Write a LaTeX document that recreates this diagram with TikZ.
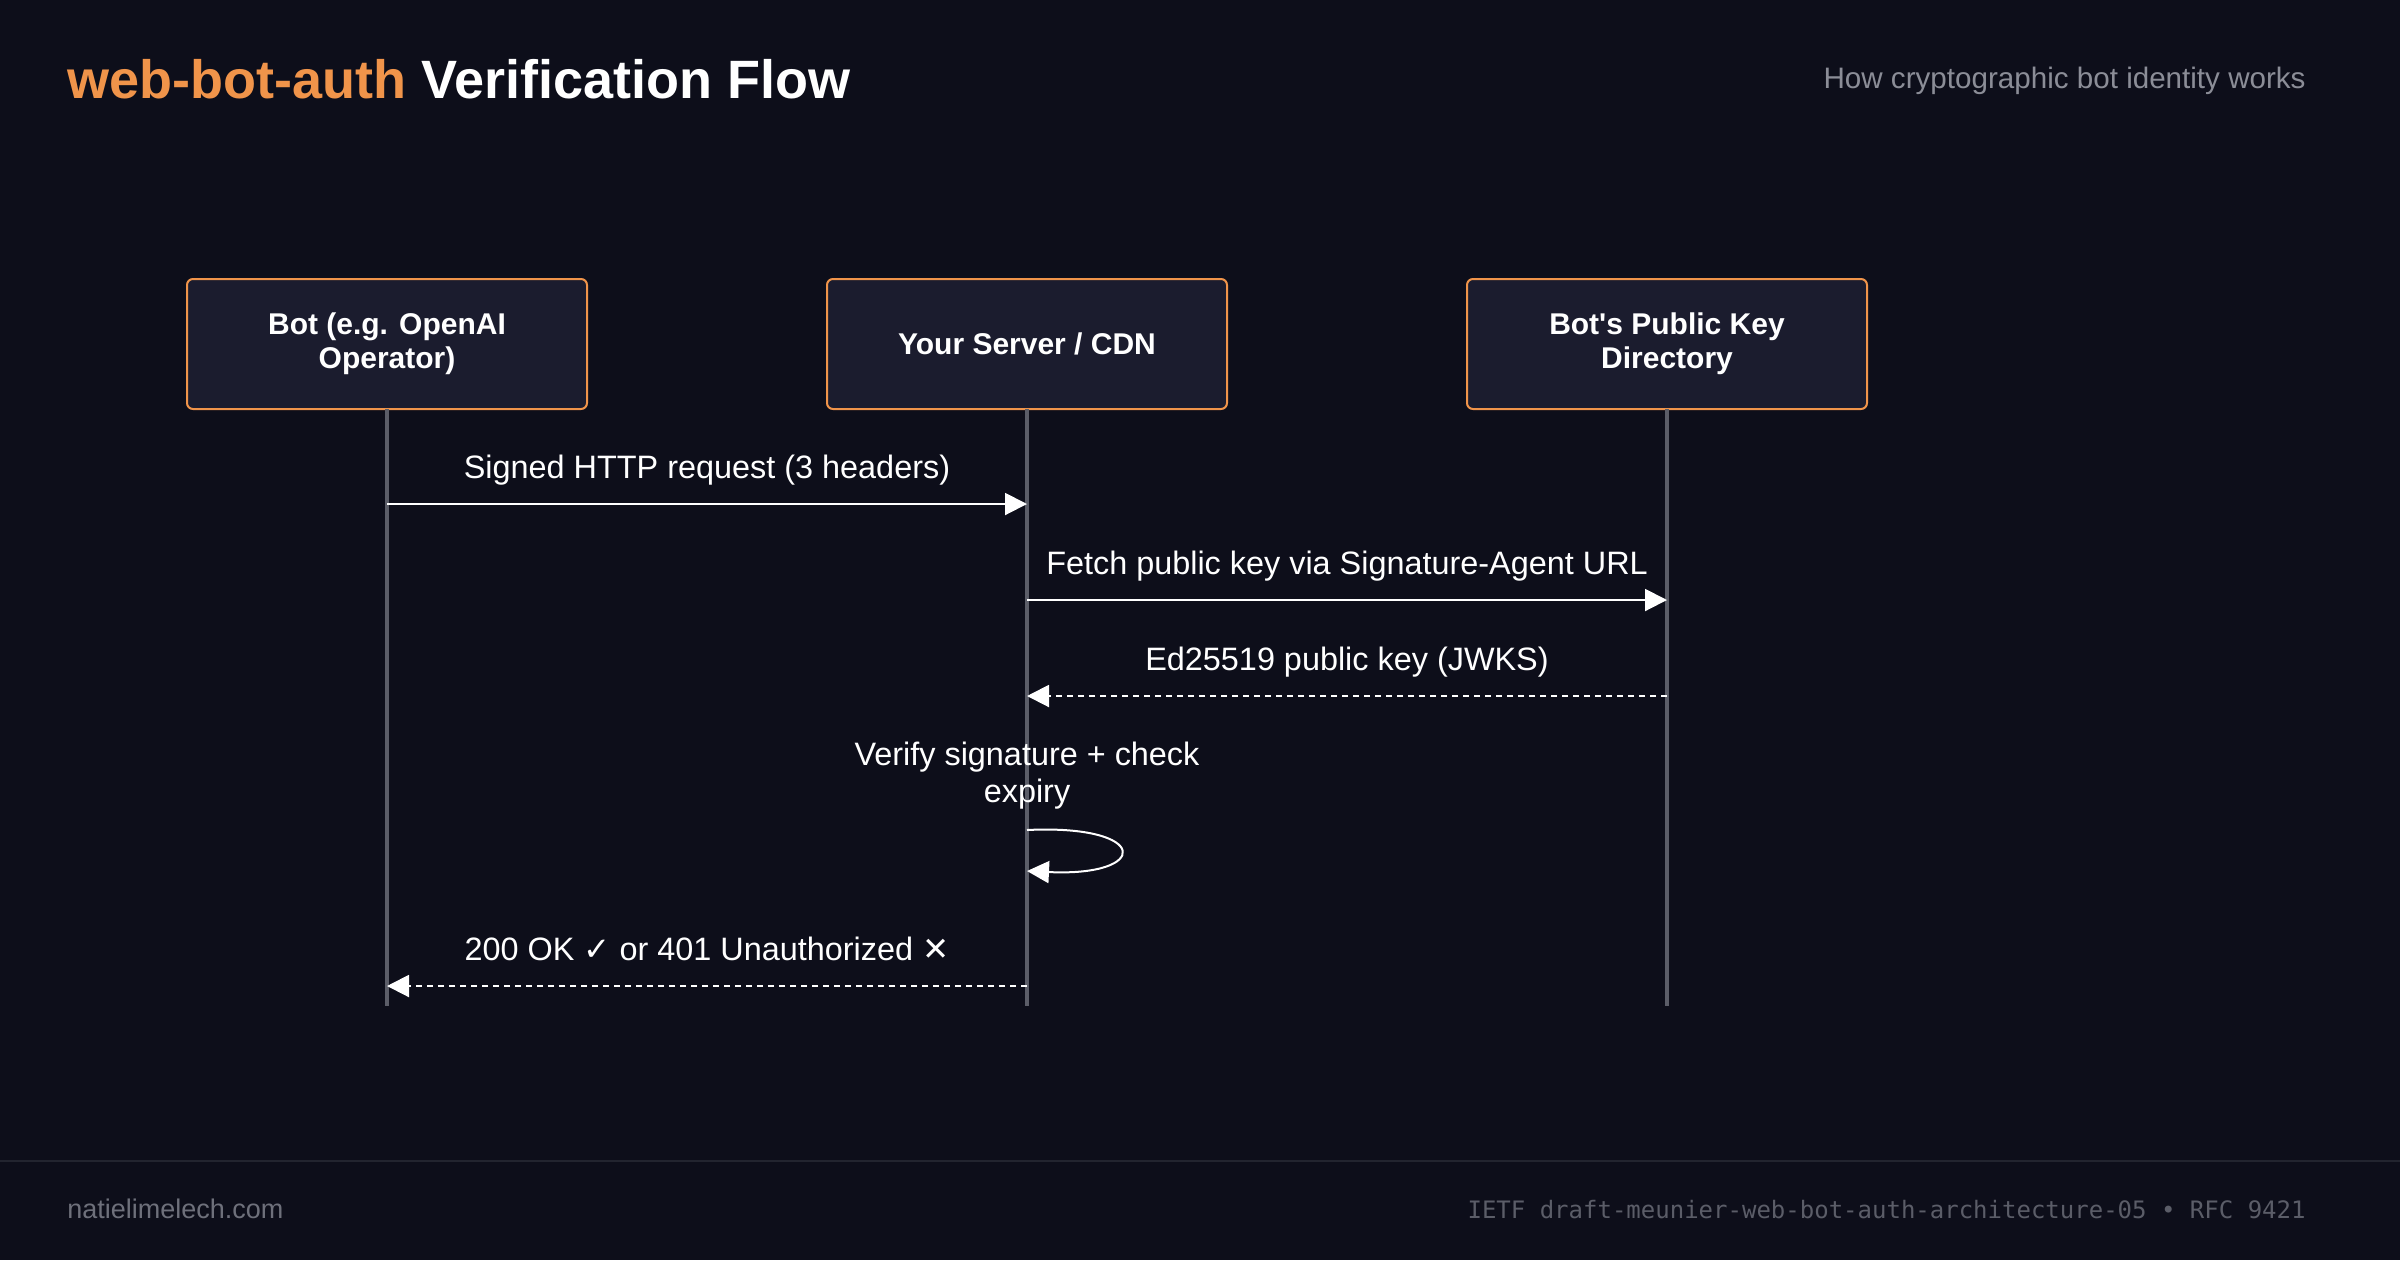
\documentclass[tikz,border=0pt]{standalone}
\usepackage{fontspec}
\setmainfont{Liberation Sans}
\setmonofont{DejaVu Sans Mono}
\newfontfamily\symfont{DejaVu Sans}
\usetikzlibrary{arrows.meta,positioning}
\definecolor{bgdark}{HTML}{0D0E1A}
\definecolor{boxfill}{HTML}{1B1C2E}
\definecolor{accent}{HTML}{F0944A}
\definecolor{lifegray}{HTML}{5B5D68}
\definecolor{subgray}{HTML}{8B8D97}
\definecolor{footgray}{HTML}{6E707B}
\definecolor{rulegray}{HTML}{22242F}

\begin{document}
\begin{tikzpicture}[x=0.5pt, y=-0.5pt, node distance=120pt,
    actor/.style={draw=accent, line width=1pt, fill=boxfill, rounded corners=3pt,
      minimum width=200pt, minimum height=65pt, inner sep=0pt, outer sep=0pt, align=center,
      text=white, font=\bfseries\fontsize{15}{17}\selectfont},
    life/.style={draw=lifegray, line width=2pt},
    msg/.style={draw=white, line width=1pt, -{Triangle[length=11pt,width=11pt]}},
    reply/.style={msg, dash pattern=on 3pt off 2.5pt},
    lbl/.style={anchor=base, yshift=13pt, inner sep=0pt, text=white,
      font=\fontsize{16.2}{18.5}\selectfont}]
    \fill[bgdark] (0,0) rectangle (2400,1260);
    \useasboundingbox (0,0) rectangle (2400,1260);

    \node[anchor=base west, inner sep=0pt, text=white, font=\bfseries\fontsize{27}{32}\selectfont]
      (title) at (67,98) {\textcolor{accent}{web-bot-auth} Verification Flow};
    \node[anchor=base east, inner sep=0pt, text=subgray, font=\fontsize{14.8}{17}\selectfont]
      (sub) at (2306,88) {How cryptographic bot identity works};

    \node[actor] (bot) at (387,344) {Bot (e.g. OpenAI\\Operator)};
    \node[actor] (srv) [right=of bot] {Your Server / CDN};
    \node[actor] (dir) [right=of srv] {Bot\textquotesingle s Public Key\\Directory};

    \coordinate (bot-end) at (bot |- 0,1006);
    \coordinate (srv-end) at (srv |- 0,1006);
    \coordinate (dir-end) at (dir |- 0,1006);
    \draw[life] (bot) -- (bot-end);
    \draw[life] (srv) -- (srv-end);
    \draw[life] (dir) -- (dir-end);

    \coordinate (bot-m1) at (bot |- 0,504);
    \coordinate (srv-m1) at (srv |- 0,504);
    \coordinate (srv-m2) at (srv |- 0,600);
    \coordinate (dir-m2) at (dir |- 0,600);
    \coordinate (dir-m3) at (dir |- 0,696);
    \coordinate (srv-m3) at (srv |- 0,696);
    \coordinate (srv-l1) at (srv |- 0,830);
    \coordinate (srv-l2) at (srv |- 0,871);
    \coordinate (srv-m4) at (srv |- 0,986);
    \coordinate (bot-m4) at (bot |- 0,986);

    \path
    (bot-m1) edge[msg] node[lbl] {Signed HTTP request (3 headers)} (srv-m1)
    (srv-m2) edge[msg] node[lbl] {Fetch public key via Signature-Agent URL} (dir-m2)
    (dir-m3) edge[reply] node[lbl] {Ed25519 public key (JWKS)} (srv-m3)
    (srv-m4) edge[reply] node[lbl] {200 OK {\symfont ✓} or 401 Unauthorized {\symfont ✕}} (bot-m4)
    ;
    \draw[msg] (srv-l1) .. controls +(124,-6) and +(124,6) .. (srv-l2);
    \node[anchor=base, inner sep=0pt, align=center, text=white, font=\fontsize{16.2}{18.5}\selectfont]
      (check) at (srv |- 0,802) {Verify signature + check\\expiry};

    \draw[draw=rulegray, line width=1pt] (0,1161) -- (2400,1161);
    \node[anchor=base west, inner sep=0pt, text=footgray, font=\fontsize{13.5}{16}\selectfont]
      (site) at (67,1218) {natielimelech.com};
    \node[anchor=base east, inner sep=0pt, text=lifegray, font=\ttfamily\fontsize{12}{14}\selectfont]
      (ref) at (2306,1218) {IETF draft-meunier-web-bot-auth-architecture-05 • RFC 9421};
  \end{tikzpicture}
\end{document}
